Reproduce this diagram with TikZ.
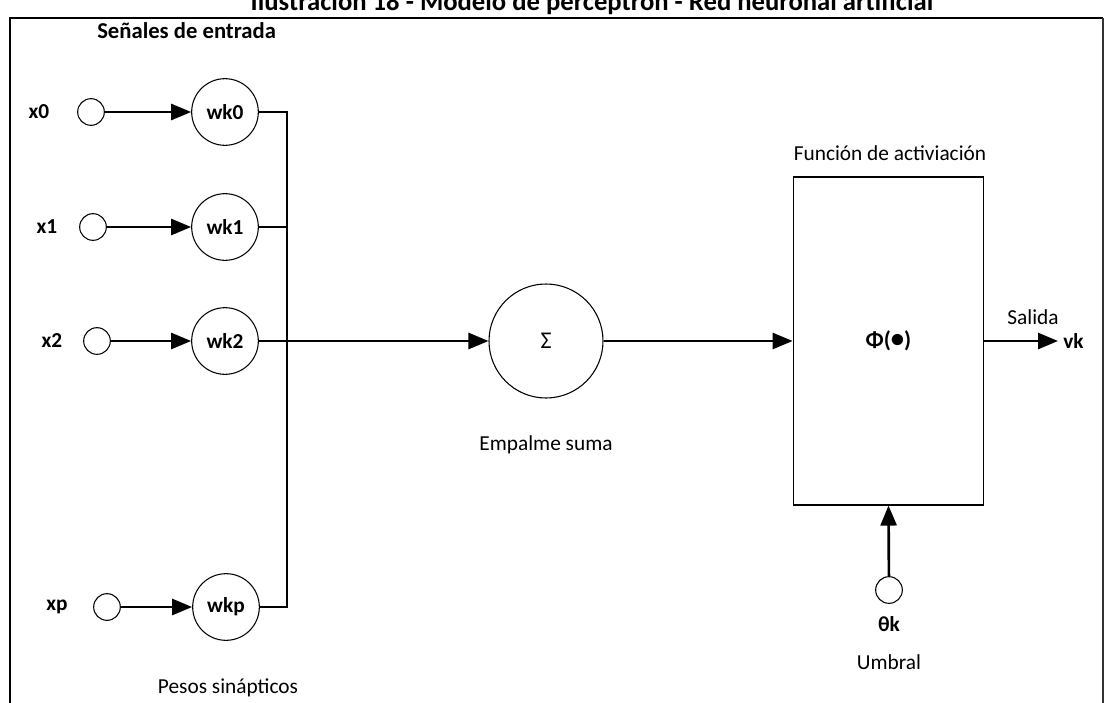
\documentclass[tikz,border=0pt]{standalone}
\usepackage{fontspec}
\setmainfont{Carlito}
\usetikzlibrary{arrows.meta}
\begin{document}
\begin{tikzpicture}[x=0.75pt,y=-0.75pt,
  txt/.style={font=\fontsize{16}{19}\selectfont, inner sep=0pt},
  btxt/.style={font=\fontsize{16}{19}\selectfont\bfseries, inner sep=0pt},
  inc/.style={circle, draw, line width=0.8pt, minimum size=20pt, inner sep=0pt},
  wnode/.style={circle, draw, line width=0.8pt, minimum size=50pt, inner sep=0pt,
    font=\fontsize{16}{19}\selectfont\bfseries},
  wire/.style={line width=2pt},
  arr/.style={line width=2pt, -{Triangle[length=15pt,width=12pt]}},
  frame/.style={line width=1.5pt}]
\useasboundingbox (0,0) rectangle (1110,703);
\clip (0,0) rectangle (1110,703);

% caption running off the top edge
\node[anchor=base, inner sep=0pt, font=\fontsize{20}{24}\selectfont\bfseries]
  (title) at (592,10) {Ilustración 18 - Modelo de perceptrón - Red neuronal artificial};

% surrounding frame
\coordinate (fl) at (10,703);
\coordinate (ftl) at (10,18);
\coordinate (ftr) at (1103,18);
\coordinate (fr) at (1103,703);
\draw[frame] (fl) -- (ftl) -- (ftr);
\draw[line width=1pt, black!80] (ftr) -- (fr);

\node[anchor=west, inner sep=0pt, font=\fontsize{17}{20}\selectfont\bfseries]
  (senales) at (97,31) {Señales de entrada};

% input signals
\node[inc] (x0) at (91,112) {};
\node[inc] (x1) at (93,227) {};
\node[inc] (x2) at (97,341) {};
\node[inc] (xp) at (107,607) {};
\node[btxt] (lx0) at (39,112) {x0};
\node[btxt] (lx1) at (47,227) {x1};
\node[btxt] (lx2) at (52,341) {x2};
\node[btxt] (lxp) at (57,607) {xp};

% synaptic weights
\node[wnode] (wk0) at (225,112) {wk0};
\node[wnode] (wk1) at (225,227) {wk1};
\node[wnode] (wk2) at (225,341) {wk2};
\node[wnode] (wkp) at (226,607) {wkp};
\node[txt] (pesos) at (228,688) {Pesos sinápticos};

\draw[arr] (x0) -- (wk0);
\draw[arr] (x1) -- (wk1);
\draw[arr] (x2) -- (wk2);
\draw[arr] (xp) -- (wkp);

% summing bus
\coordinate (bt) at (287,112);
\coordinate (bb) at (287,607);
\draw[wire] (wk0.east) -- (bt) -- (bb) -- (wkp.east);
\draw[wire] (wk1.east) -- (wk1.east -| bt);

% summing junction
\node[circle, draw, line width=0.8pt, minimum size=85.5pt, inner sep=0pt,
  font=\fontsize{18}{20}\selectfont] (sum) at (546,341) {Σ};
\node[txt] (empalme) at (546,445) {Empalme suma};
\draw[arr] (wk2.east) -- (sum.west);

% activation function
\node[draw, line width=0.8pt, fill=white, minimum width=143pt, minimum height=246pt,
  inner sep=0pt, font=\fontsize{17}{20}\selectfont\bfseries] (act) at (888.5,341)
  {Φ(\raisebox{0.05ex}{\fontsize{20}{20}\selectfont•})};
\node[txt] (funcion) at (890,153) {Función de activiación};
\draw[arr] (sum.east) -- (act.west);

% output
\coordinate (out) at (1058,341);
\draw[arr] (act.east |- out) -- (out);
\node[btxt, anchor=west] (vk) at (1063,341) {vk};
\node[txt] (salida) at (1033,317) {Salida};

% threshold
\node[inc] (theta) at (889,590) {};
\node[btxt] (ltheta) at (889,624) {θk};
\node[txt] (umbral) at (889,662) {Umbral};
\draw[arr] (theta) -- (act.south);
\end{tikzpicture}
\end{document}
